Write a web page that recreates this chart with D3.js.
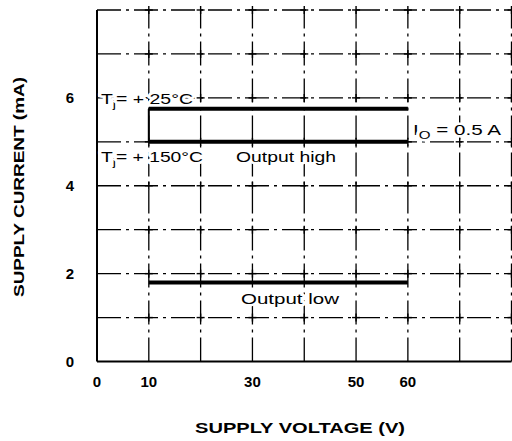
<!DOCTYPE html>
<html>
<head>
<meta charset="utf-8">
<title>Supply current vs supply voltage</title>
<script src="https://cdn.jsdelivr.net/npm/d3@7"></script>
<style>
    body { margin: 0; background: #fff; }
    svg text { font-family: "Liberation Sans", Arial, sans-serif; fill: #000; }
    .note { stroke: #fff; stroke-width: 5px; paint-order: stroke; stroke-linejoin: round; }
</style>
</head>
<body>
<svg id="chart" width="512" height="441"></svg>
<script>
// values
var voltage = [10, 60];
var currentHigh25 = [5.75, 5.75];   // Tj = +25°C, output high
var currentHigh150 = [5.0, 5.0];    // Tj = +150°C, output high
var currentLow = [1.8, 1.8];        // output low
var xTickLabels = [0, 10, 30, 50, 60];
var yTickLabels = [0, 2, 4, 6];
var xGrid = [10, 20, 30, 40, 50, 60, 70, 80];
var yGrid = [1, 2, 3, 4, 5, 6, 7, 8];

var svg = d3.select("#chart");
var x = d3.scaleLinear().domain([0, 80]).range([97, 511.5]);
var y = d3.scaleLinear().domain([0, 8]).range([361.5, 10]);

// dashed grid
var grid = svg.append("g")
    .attr("stroke", "#000")
    .attr("stroke-width", 1.3)
    .attr("stroke-dasharray", "24,5,3,5");
grid.selectAll(".vg").data(xGrid).enter().append("line")
    .attr("x1", d => x(d)).attr("x2", d => x(d))
    .attr("y1", y(0)).attr("y2", y(8));
grid.selectAll(".hg").data(yGrid).enter().append("line")
    .attr("x1", x(0)).attr("x2", x(80))
    .attr("y1", d => y(d)).attr("y2", d => y(d));

// little crosses where grid lines meet
var cross = [];
xGrid.forEach(function(a) { yGrid.forEach(function(b) { cross.push([a, b]); }); });
var cr = svg.append("g").attr("stroke", "#000").attr("stroke-width", 1.4);
cr.selectAll(".cx").data(cross).enter().append("line")
    .attr("x1", d => x(d[0]) - 4).attr("x2", d => x(d[0]) + 4)
    .attr("y1", d => y(d[1])).attr("y2", d => y(d[1]));
cr.selectAll(".cy").data(cross).enter().append("line")
    .attr("x1", d => x(d[0])).attr("x2", d => x(d[0]))
    .attr("y1", d => y(d[1]) - 4).attr("y2", d => y(d[1]) + 4);

// solid axes
svg.append("line").attr("x1", x(0)).attr("x2", x(0)).attr("y1", y(8)).attr("y2", y(0))
    .attr("stroke", "#000").attr("stroke-width", 2);
svg.append("line").attr("x1", x(0)).attr("x2", x(80)).attr("y1", y(0)).attr("y2", y(0))
    .attr("stroke", "#000").attr("stroke-width", 2);

// annotations (white halo breaks the grid behind them, as in the print)
function label(px, py, main, sub, rest, len) {
    var t = svg.append("text").attr("class", "note").attr("x", px).attr("y", py).attr("font-size", 15);
    t.append("tspan").text(main);
    t.append("tspan").attr("dy", 4).attr("font-size", 11).text(sub);
    t.append("tspan").attr("dy", -4).text(rest);
    if (len) t.attr("textLength", len).attr("lengthAdjust", "spacingAndGlyphs");
}
label(101, 104, "T", "j", "= + 25°C", 92);
label(101, 162, "T", "j", "= + 150°C", 102);
label(413, 135, "I", "O", " = 0.5 A", 88);
svg.append("text").attr("class", "note").attr("x", 236).attr("y", 162).attr("font-size", 15)
    .attr("textLength", 100).attr("lengthAdjust", "spacingAndGlyphs")
    .text("Output high");
svg.append("text").attr("class", "note").attr("x", 290).attr("y", 304).attr("font-size", 15)
    .attr("text-anchor", "middle")
    .attr("textLength", 98).attr("lengthAdjust", "spacingAndGlyphs")
    .text("Output low");

// curves
var line = d3.line().x(d => x(d[0])).y(d => y(d[1]));
[currentHigh25, currentHigh150, currentLow].forEach(function(s) {
    svg.append("path")
        .attr("d", line(voltage.map((v, i) => [v, s[i]])))
        .attr("fill", "none").attr("stroke", "#000").attr("stroke-width", 4);
});
// short riser at 10 V joining the two output-high lines
svg.append("line")
    .attr("x1", x(voltage[0])).attr("x2", x(voltage[0]))
    .attr("y1", y(currentHigh25[0])).attr("y2", y(currentHigh150[0]))
    .attr("stroke", "#000").attr("stroke-width", 2);

// tick labels
svg.selectAll(".xl").data(xTickLabels).enter().append("text")
    .attr("x", d => x(d)).attr("y", 387)
    .attr("text-anchor", "middle").attr("font-size", 15).attr("font-weight", "bold")
    .text(d => d);
svg.selectAll(".yl").data(yTickLabels).enter().append("text")
    .attr("x", 70).attr("y", d => y(d) + 5)
    .attr("text-anchor", "middle").attr("font-size", 15).attr("font-weight", "bold")
    .text(d => d);

// axis titles
svg.append("text").attr("x", 300).attr("y", 433)
    .attr("text-anchor", "middle").attr("font-size", 14).attr("font-weight", "bold")
    .attr("textLength", 210).attr("lengthAdjust", "spacingAndGlyphs")
    .text("SUPPLY VOLTAGE (V)");
svg.append("text").attr("transform", "translate(24,187) rotate(-90)")
    .attr("text-anchor", "middle").attr("font-size", 14).attr("font-weight", "bold")
    .attr("textLength", 220).attr("lengthAdjust", "spacingAndGlyphs")
    .text("SUPPLY CURRENT (mA)");
</script>
</body>
</html>
